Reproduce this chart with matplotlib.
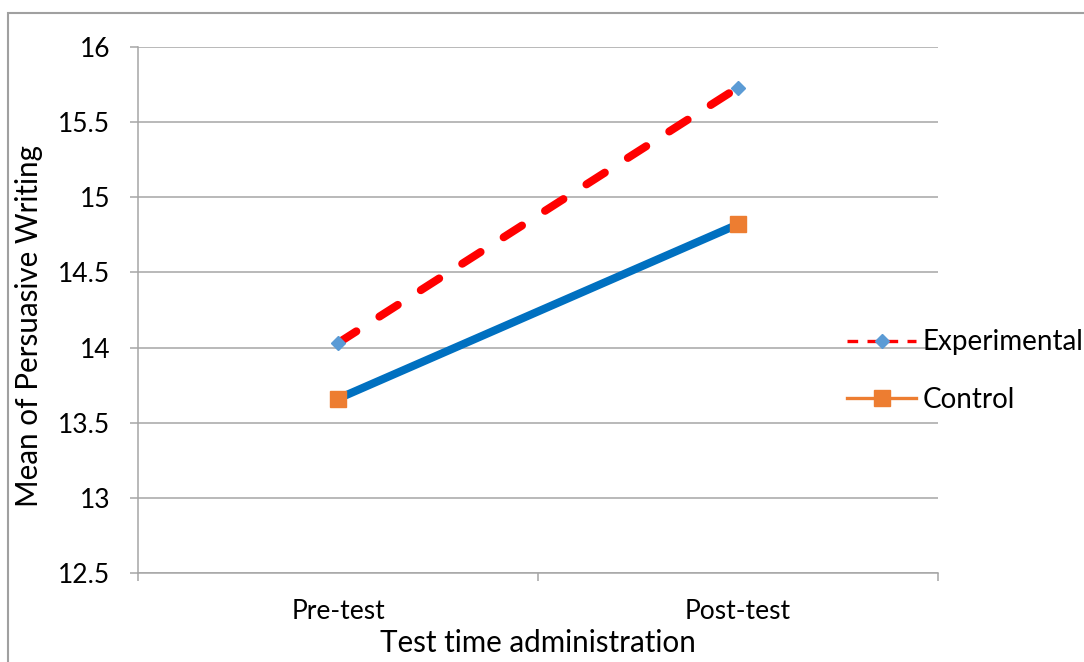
import matplotlib
matplotlib.use("Agg")
import matplotlib.pyplot as plt
from matplotlib.lines import Line2D
from matplotlib.patches import Rectangle

# data
categories = ["Pre-test", "Post-test"]
experimental = [14.03, 15.73]
control = [13.66, 14.82]
y_ticks = [12.5, 13, 13.5, 14, 14.5, 15, 15.5, 16]
y_tick_labels = ["12.5", "13", "13.5", "14", "14.5", "15", "15.5", "16"]

GRAY = "#a6a6a6"
plt.rcParams["font.family"] = ["Lato", "DejaVu Sans"]

W, H = 1084, 662
fig = plt.figure(figsize=(W / 100, H / 100), dpi=100)
ax = fig.add_axes([138 / W, 1 - 573 / H, 800 / W, 526 / H])

x = list(range(len(categories)))

# series lines
ax.plot(x, experimental, color="#ff0000", lw=5.8, dashes=(2.7, 3.4),
        dash_capstyle="round", solid_capstyle="round", zorder=3)
ax.plot(x, control, color="#0070c0", lw=5.8, solid_capstyle="butt", zorder=3)
# markers on top
ax.plot(x, experimental, ls="none", marker="D", ms=7.2, color="#5b9bd5",
        mec="#5b9bd5", zorder=4)
ax.plot(x, control, ls="none", marker="s", ms=12.2, color="#ed7d31",
        mec="#ed7d31", zorder=4)

ax.set_xlim(-0.5, len(categories) - 0.5)
ax.set_ylim(12.5, 16)
ax.set_yticks(y_ticks)
ax.set_yticklabels(y_tick_labels)
ax.set_xticks(x)
ax.set_xticklabels(categories)
ax.set_xticks([i - 0.5 for i in range(len(categories) + 1)], minor=True)

ax.tick_params(axis="x", which="major", length=0, pad=19, labelsize=19)
ax.tick_params(axis="x", which="minor", length=6, width=1.1, color=GRAY)
ax.tick_params(axis="y", length=6, width=1.1, color=GRAY, pad=14, labelsize=19)

ax.grid(axis="y", color=GRAY, lw=1.1, zorder=1)
ax.set_axisbelow(True)
for side in ("top", "right"):
    ax.spines[side].set_visible(False)
for side in ("left", "bottom"):
    ax.spines[side].set_color(GRAY)
    ax.spines[side].set_linewidth(1.1)

ax.set_xlabel("Test time administration", fontsize=21.3, labelpad=3)
ax.set_ylabel("Mean of Persuasive Writing", fontsize=21.3)
ax.yaxis.set_label_coords(-(138 - 43) / 800, 0.47)

handles = [
    Line2D([], [], color="#ff0000", lw=2.4, dashes=(3.2, 2.8), marker="D",
           ms=7.2, mfc="#5b9bd5", mec="#5b9bd5"),
    Line2D([], [], color="#ed7d31", lw=2.4, marker="s", ms=12.2,
           mfc="#ed7d31", mec="#ed7d31"),
]
fig.legend(handles, ["Experimental", "Control"], loc="center left",
           bbox_to_anchor=(847 / W, 1 - 371 / H), frameon=False, fontsize=20,
           handlelength=2.5, handletextpad=0.22, labelspacing=1.12,
           borderpad=0, borderaxespad=0)

# chart area border (clipped at right and bottom of the image)
fig.add_artist(Rectangle((8 / W, -0.1), 1.2, 1.1 - 13 / H, transform=fig.transFigure,
                         fill=False, ec="#a0a0a0", lw=1.5))

fig.savefig("out.png", dpi=100)
